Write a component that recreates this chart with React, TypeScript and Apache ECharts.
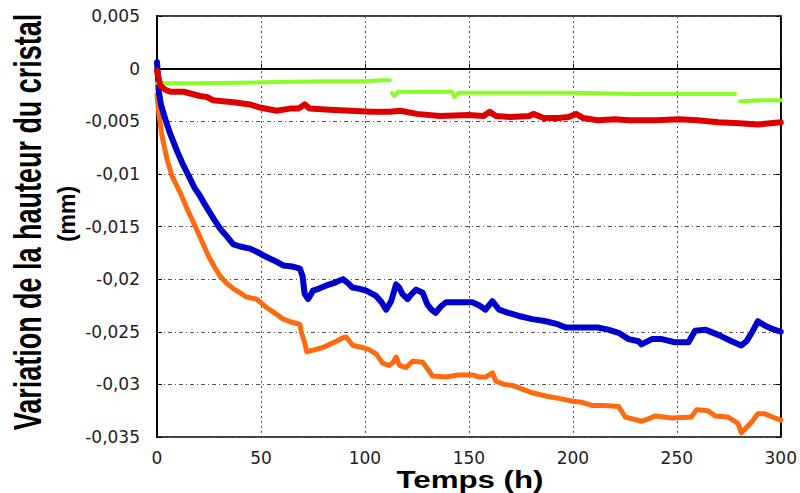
import React, { useEffect, useRef } from "react";
import * as echarts from "echarts";

const xTicks = [0, 50, 100, 150, 200, 250, 300];
const yTicks = [0.005, 0, -0.005, -0.01, -0.015, -0.02, -0.025, -0.03, -0.035];

const xTitle = "Temps (h)";
const yTitle = "Variation de la hauteur du cristal";
const yUnit = "(mm)";

const greenData: [number, number | string][] = [
  [0, -0.0014], [5, -0.0014], [20, -0.0014], [50, -0.0013], [80, -0.0012], [100, -0.0012],
  [108, -0.0011], [112, -0.0011], [112.5, "-"], [113, -0.0023], [114, -0.0026], [116, -0.0022],
  [130, -0.0022], [142, -0.0022], [143, -0.0027], [145, -0.0023], [160, -0.0023], [200, -0.0023],
  [230, -0.0024], [260, -0.0024], [278, -0.0024], [279, "-"], [280.5, -0.0031], [290, -0.003],
  [300, -0.003],
];

const redData: [number, number][] = [
  [0, -0.0002], [1.6, -0.0016], [4, -0.002], [6.4, -0.0022], [12.8, -0.0022], [20.7, -0.0026],
  [24, -0.0027], [27, -0.003], [36.7, -0.0032], [44.7, -0.0034], [49.5, -0.0037], [57.5, -0.004],
  [64, -0.0038], [68, -0.0038], [71, -0.0034], [73.5, -0.0038], [83, -0.0039], [93, -0.004],
  [103, -0.0041], [112, -0.0041], [117, -0.004], [125, -0.0043], [136, -0.0045], [150, -0.0044],
  [157, -0.0045], [160, -0.0041], [163, -0.0045], [170, -0.0046], [179, -0.0045], [181, -0.0043],
  [186, -0.0047], [193, -0.0047], [198, -0.0046], [201.5, -0.0043], [205, -0.0047], [212, -0.0049],
  [220, -0.0048], [227, -0.0049], [240, -0.0049], [251, -0.0048], [260, -0.0049], [270, -0.0051],
  [280, -0.0052], [289, -0.0053], [295, -0.0052], [300, -0.0051],
];

const blueData: [number, number][] = [
  [0, 0.0006], [0.4, -0.0005], [0.8, -0.0021], [2, -0.0035], [4, -0.0048], [6, -0.006],
  [8, -0.007], [10, -0.008], [12, -0.0089], [14, -0.0097], [16, -0.0105], [18, -0.0113],
  [20.7, -0.0121], [23, -0.0129], [25.5, -0.0137], [28, -0.0145], [30.3, -0.0152], [33, -0.0158],
  [36.7, -0.0167], [40, -0.0169], [44.7, -0.0171], [48, -0.0174], [52.7, -0.0179], [56, -0.0182],
  [60.7, -0.0187], [65, -0.0188], [68.7, -0.019], [70, -0.0197], [71, -0.0214], [72.7, -0.0219],
  [75, -0.0211], [78, -0.0209], [81.5, -0.0206], [86, -0.0203], [89.4, -0.02], [92, -0.0204],
  [94, -0.0208], [97, -0.0209], [100.6, -0.0211], [105.4, -0.0216], [108, -0.0222], [110.2, -0.0229],
  [112.6, -0.0221], [115, -0.0205], [116.5, -0.0208], [118, -0.0214], [120.5, -0.0219], [122.5, -0.0214],
  [124.6, -0.021], [127.8, -0.0213], [130, -0.0224], [132, -0.0229], [134, -0.0232], [136.5, -0.0226],
  [139, -0.0222], [145, -0.0222], [151.7, -0.0222], [155, -0.0225], [158, -0.0229], [161.3, -0.0221],
  [164.5, -0.0229], [169, -0.0232], [174, -0.0235], [180.5, -0.0238], [187, -0.024], [193, -0.0243],
  [196.5, -0.0246], [202.8, -0.0246], [212, -0.0246], [217, -0.0248], [222, -0.0251], [226.8, -0.0257],
  [231.6, -0.0259], [233, -0.0262], [238, -0.0257], [242.8, -0.0257], [249, -0.026], [255.6, -0.026],
  [258.8, -0.0249], [263.6, -0.0248], [270, -0.0253], [276.3, -0.0259], [281, -0.0263], [283.5, -0.0259],
  [286, -0.0251], [289, -0.024], [292.3, -0.0244], [295.5, -0.0247], [300, -0.025],
];

const orangeData: [number, number][] = [
  [0, -0.0025], [0.8, -0.0041], [2.4, -0.0064], [4.8, -0.0086], [7.2, -0.0102], [11.2, -0.0118],
  [14.4, -0.0133], [17.5, -0.0146], [21.6, -0.0164], [24.7, -0.0178], [27.5, -0.0188], [30.3, -0.0197],
  [33.5, -0.0204], [36.7, -0.0209], [43, -0.0217], [48, -0.0219], [52.7, -0.0227], [56.5, -0.0232],
  [60.7, -0.0238], [65, -0.0241], [68.7, -0.0243], [69.5, -0.0251], [71, -0.026], [72, -0.0269],
  [76, -0.0267], [79.8, -0.0265], [83, -0.0262], [86.3, -0.0259], [89, -0.0256], [91, -0.0255],
  [92.6, -0.0259], [94.2, -0.0263], [99, -0.0265], [102, -0.0267], [105.4, -0.0271], [108.6, -0.028],
  [111.8, -0.0282], [113.5, -0.0279], [115, -0.0274], [116.6, -0.0282], [119.8, -0.0284], [123, -0.0278],
  [127.8, -0.0279], [130, -0.0285], [132.5, -0.0292], [139, -0.0293], [142, -0.0292], [145.3, -0.0291],
  [151.7, -0.0291], [155, -0.0293], [158, -0.0293], [161.3, -0.0289], [163, -0.0297], [167, -0.03],
  [171, -0.0301], [175, -0.0304], [180.5, -0.0308], [187, -0.0311], [195, -0.0314], [200, -0.0316],
  [204.4, -0.0317], [209.2, -0.032], [215, -0.032], [222, -0.0321], [225.2, -0.0331], [229, -0.0333],
  [233.2, -0.0335], [236, -0.0333], [239.6, -0.033], [247.6, -0.0332], [257, -0.0331], [259.5, -0.0324],
  [265, -0.0325], [268.4, -0.033], [274.6, -0.0331], [279.4, -0.0337], [281, -0.0346], [283.5, -0.0341],
  [285.9, -0.0336], [289, -0.0328], [292.3, -0.0328], [296, -0.0331], [300, -0.0334],
];

const fmtY = (v: number) => {
  const r = Math.round(v * 1000) / 1000;
  if (r === 0) return "0";
  return String(parseFloat(r.toFixed(3))).replace(".", ",");
};

export default function App() {
  const ref = useRef<HTMLDivElement>(null);
  useEffect(() => {
    if (!ref.current) return;
    const chart = echarts.init(ref.current, null, { renderer: "svg" });
    const labelFont = { fontFamily: "DejaVu Sans", fontSize: 17, color: "#222" };
    const lineSeries = (name: string, data: any[], color: string, width: number) => ({
      name,
      type: "line",
      data,
      showSymbol: false,
      symbol: "none",
      connectNulls: false,
      lineStyle: { color, width, join: "round", cap: "round" },
      itemStyle: { color },
      z: 3,
    });
    const titleStyle = (text: string, size: number) => ({
      text,
      fontSize: size,
      fontWeight: "bold",
      fontFamily: "Liberation Sans",
      fill: "#000",
      align: "center",
      verticalAlign: "middle",
    });
    chart.setOption({
      animation: false,
      grid: { left: 157, top: 16, width: 626, height: 421, show: true, borderColor: "#000", borderWidth: 1.5, backgroundColor: "transparent" },
      xAxis: {
        type: "value",
        min: xTicks[0],
        max: xTicks[xTicks.length - 1],
        interval: 50,
        axisLine: { show: true, lineStyle: { color: "#000", width: 2 } },
        axisTick: { show: true, inside: true, length: 5, lineStyle: { color: "#000" } },
        axisLabel: { ...labelFont, margin: 12 },
        splitLine: { show: true, lineStyle: { type: [2, 3], color: "#555", width: 1 } },
      },
      yAxis: [
        {
          type: "value",
          min: yTicks[yTicks.length - 1],
          max: yTicks[0],
          interval: 0.005,
          axisLine: { show: true, lineStyle: { color: "#000", width: 2 } },
          axisTick: { show: true, inside: true, length: 5, lineStyle: { color: "#000" } },
          axisLabel: { ...labelFont, margin: 17, formatter: fmtY },
          splitLine: { show: true, lineStyle: { type: [4, 3, 1, 3], color: "#555", width: 1 } },
        },
        {
          type: "value",
          position: "right",
          min: yTicks[yTicks.length - 1],
          max: yTicks[0],
          interval: 0.005,
          axisLine: { show: true, lineStyle: { color: "#000", width: 1.5 } },
          axisTick: { show: true, inside: true, length: 5, lineStyle: { color: "#000" } },
          axisLabel: { show: false },
          splitLine: { show: false },
        },
      ],
      series: [
        lineSeries("orange", orangeData, "#ff6a10", 5),
        lineSeries("blue", blueData, "#0000cc", 6),
        lineSeries("green", greenData, "#88ff22", 4),
        lineSeries("red", redData, "#dd0000", 6),
      ],
      graphic: [
        {
          type: "text",
          x: 470,
          y: 480,
          scaleX: 1.36,
          style: titleStyle(xTitle, 23),
        },
        {
          type: "text",
          x: 28,
          y: 222,
          rotation: Math.PI / 2,
          scaleX: 0.93,
          scaleY: 1.33,
          style: titleStyle(yTitle, 29),
        },
        {
          type: "text",
          x: 67,
          y: 214,
          rotation: Math.PI / 2,
          style: titleStyle(yUnit, 23),
        },
      ],
    });
    return () => chart.dispose();
  }, []);
  return <div ref={ref} style={{ position: "absolute", left: 0, top: 0, width: 800, height: 493 }} />;
}
